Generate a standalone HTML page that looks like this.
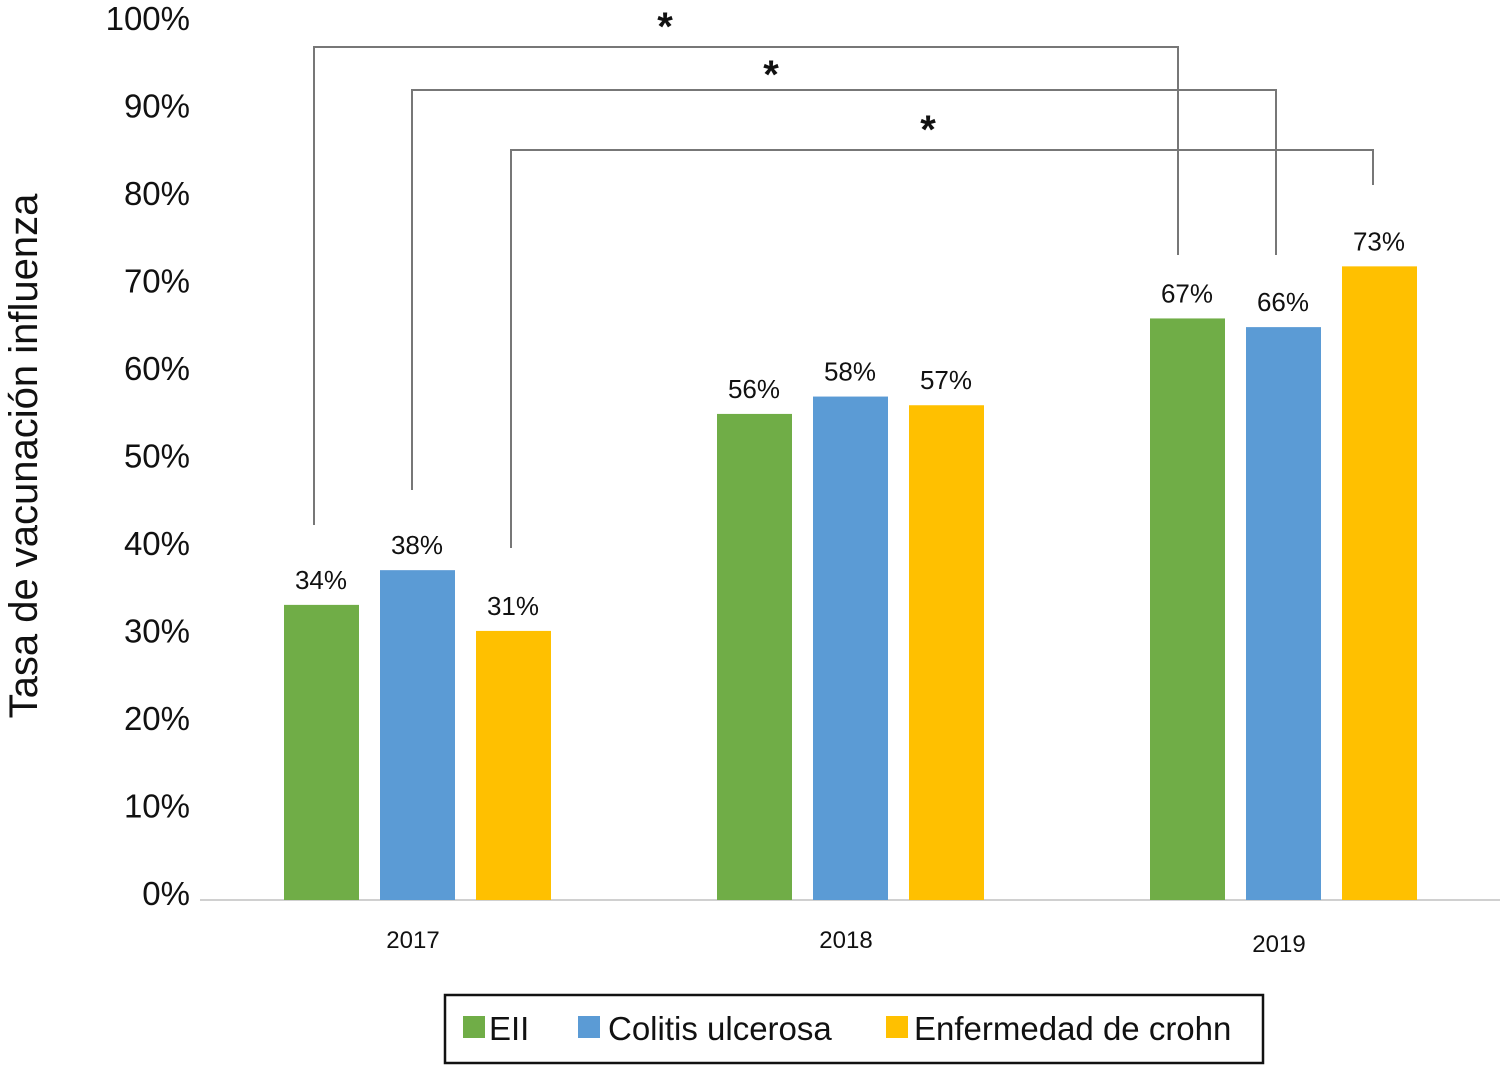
<!DOCTYPE html>
<html><head><meta charset="utf-8"><style>
body{margin:0;background:#fff;}
svg{display:block;font-family:"Liberation Sans",Arial,sans-serif;}
</style></head><body>
<svg id="chart" width="1507" height="1066" viewBox="0 0 1507 1066" xmlns="http://www.w3.org/2000/svg">
<g id="axis"></g><g id="bars"></g><g id="brackets"></g>
<text transform="translate(37,456) rotate(-90)" text-anchor="middle" font-size="40" fill="#111">Tasa de vacunación influenza</text>
<g>
<rect x="445" y="995" width="818" height="68" fill="#fff" stroke="#111" stroke-width="2.5"/>
<rect x="463" y="1016" width="22" height="22" fill="#70AD47"/>
<text x="489" y="1040" font-size="33" fill="#111">EII</text>
<rect x="578" y="1016" width="22" height="22" fill="#5B9BD5"/>
<text x="608" y="1040" font-size="33" fill="#111">Colitis ulcerosa</text>
<rect x="886" y="1016" width="22" height="22" fill="#FFC000"/>
<text x="914" y="1040" font-size="33" fill="#111">Enfermedad de crohn</text>
</g>
</svg>
<script>
const categories=["2017","2018","2019"];
const eii=[34,56,67];
const cu=[38,58,66];
const ec=[31,57,73];
const tickValues=[0,10,20,30,40,50,60,70,80,90,100];
const tickLabels=["0%","10%","20%","30%","40%","50%","60%","70%","80%","90%","100%"];
const NS="http://www.w3.org/2000/svg";
const y=v=>900-v*8.68;
const yl=v=>893-v*8.75;
const groupCenter=i=>417+i*433;
function mk(tag,attrs,parent,text){const e=document.createElementNS(NS,tag);for(const k in attrs)e.setAttribute(k,attrs[k]);if(text!==undefined)e.textContent=text;parent.appendChild(e);return e;}
const ax=document.getElementById('axis');
let base=mk('line',{x1:200,x2:1500,y1:900,y2:900,stroke:'#d0d0d0','stroke-width':2},ax);


tickValues.forEach((v,i)=>{
 const t=mk('text',{x:190,y:yl(v)+12,'text-anchor':'end','font-size':33,fill:'#111'},ax,tickLabels[i]);
 
 
});
categories.forEach((c,i)=>{
 const t=mk('text',{x:groupCenter(i)-4,y:i==2?952:948,'text-anchor':'middle','font-size':24,fill:'#111'},ax,c);
 
 
});
const series=[{d:eii,c:'#70AD47',n:'eii'},{d:cu,c:'#5B9BD5',n:'cu'},{d:ec,c:'#FFC000',n:'ec'}];
const bg=document.getElementById('bars');
categories.forEach((c,i)=>{
 series.forEach((s,j)=>{
  const x=groupCenter(i)+(j-1)*96-37;
  const v=s.d[i];
  const r=mk('rect',{x:x,y:y(v),width:75,height:900-y(v),fill:s.c},bg);
  
  
  const t=mk('text',{x:x+37,y:y(v)-16,'text-anchor':'middle','font-size':26,fill:'#111'},bg,v+'%');
  
  
 });
});
const br=document.getElementById('brackets');
const brk=[[314,525,47,1178,255,665,40],[412,490,90,1276,255,771,88],[511,548,150,1373,185,928,143]];
brk.forEach(b=>{
 const p=mk('polyline',{points:`${b[0]},${b[1]} ${b[0]},${b[2]} ${b[3]},${b[2]} ${b[3]},${b[4]}`,fill:'none',stroke:'#777','stroke-width':2},br);
 
 
 const s=mk('text',{x:b[5],y:b[6],'text-anchor':'middle','font-size':40,'font-weight':'bold',fill:'#111'},br,'*');
 
 
});
</script>
</body></html>
